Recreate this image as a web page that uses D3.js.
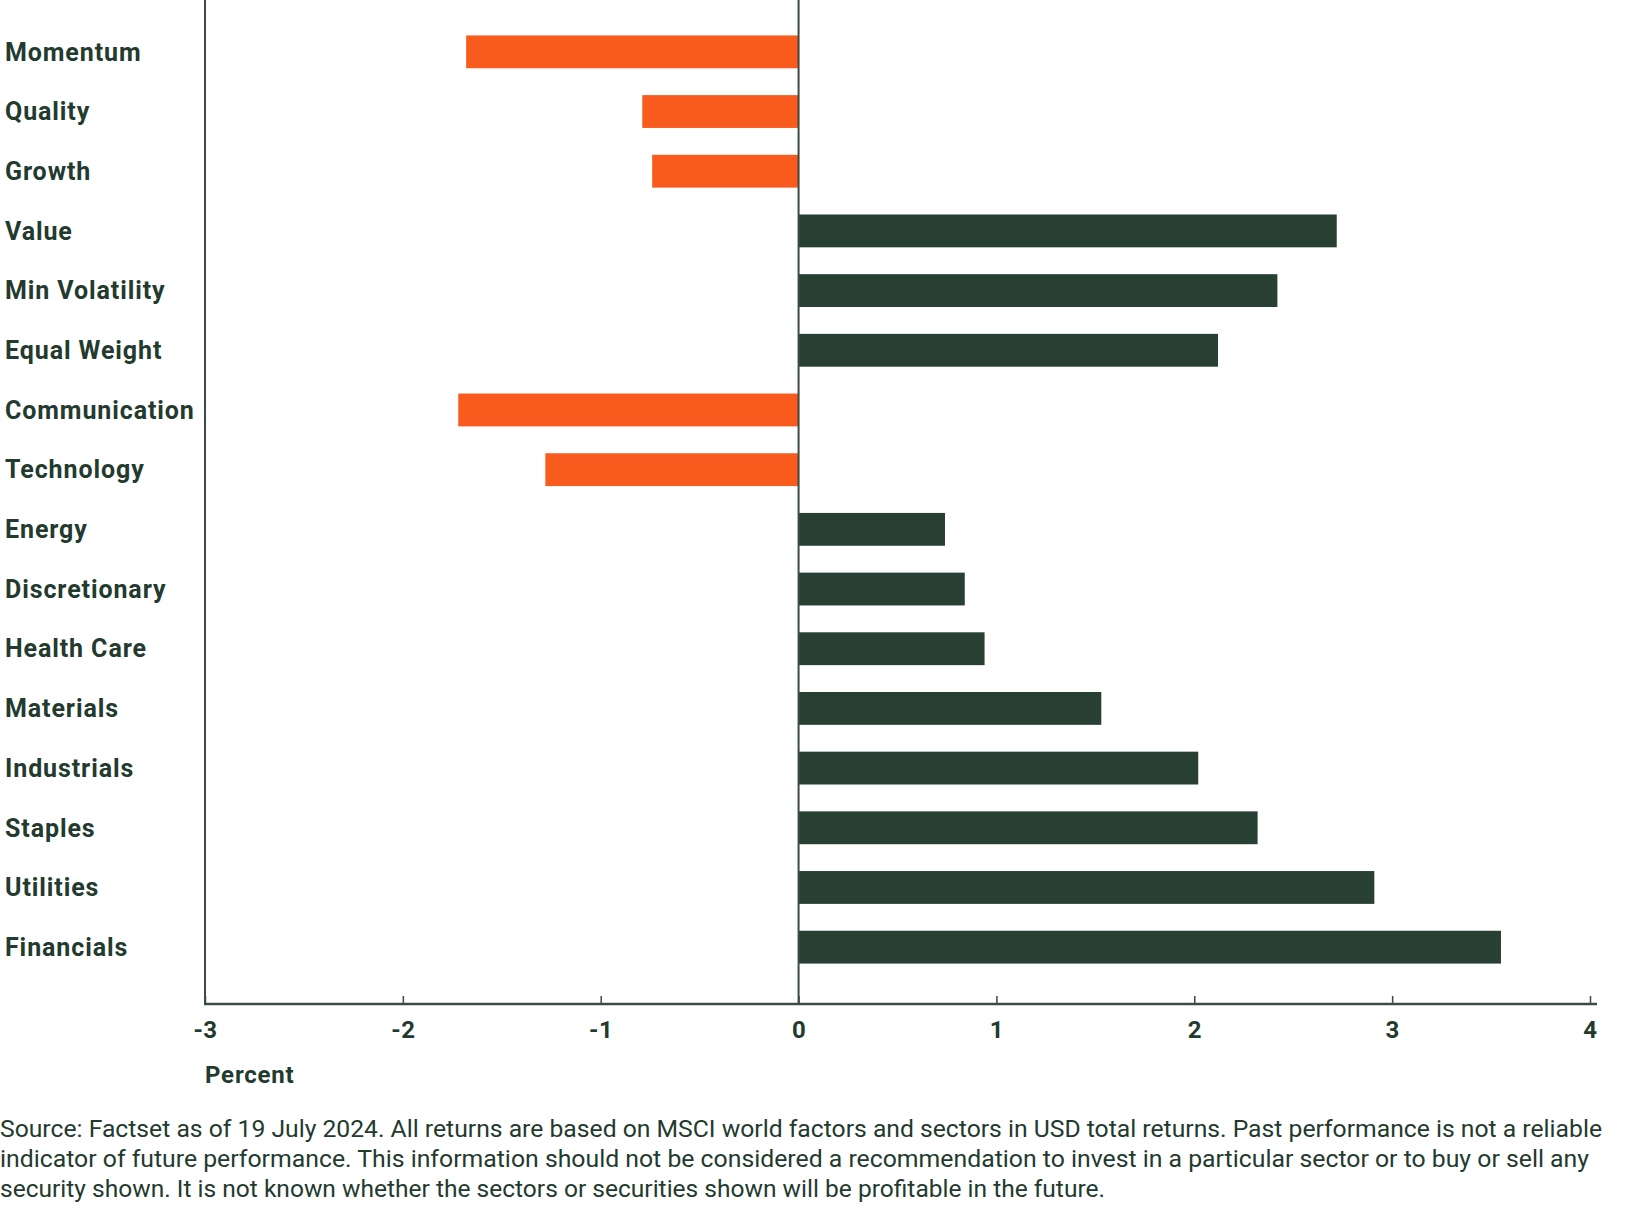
<!DOCTYPE html>
<html><head><meta charset="utf-8">
<script src="https://cdn.jsdelivr.net/npm/d3@7"></script>
<style>body{margin:0;background:#fff}</style>
</head><body><svg id="c" width="1626" height="1208"></svg>
<script>
const categories = ["Momentum","Quality","Growth","Value","Min Volatility","Equal Weight","Communication","Technology","Energy","Discretionary","Health Care","Materials","Industrials","Staples","Utilities","Financials"];
const values = [-1.68,-0.79,-0.74,2.72,2.42,2.12,-1.72,-1.28,0.74,0.84,0.94,1.53,2.02,2.32,2.91,3.55];
const tickValues = [-3,-2,-1,0,1,2,3,4];
const axisTitle = "Percent";
const footnoteLines = [
  "Source: Factset as of 19 July 2024. All returns are based on MSCI world factors and sectors in USD total returns. Past performance is not a reliable",
  "indicator of future performance. This information should not be considered a recommendation to invest in a particular sector or to buy or sell any",
  "security shown. It is not known whether the sectors or securities shown will be profitable in the future."
];
const footnoteWidths = [1602, 1589, 1105];

const DARK = "#283f33", ORANGE = "#f95b1e", TEXT = "#233a2e", AXIS = "#3d4b44";
const svg = d3.select("#c");
const x = d3.scaleLinear().domain([-3, 4]).range([205, 1590]);
const y = d3.scaleBand().domain(categories).range([22, 977]).paddingInner(0.45).paddingOuter(0.225);
const axisY = 1004;

// bars
svg.append("g").selectAll("rect").data(categories).join("rect")
  .attr("x", (d,i) => x(Math.min(0, values[i])))
  .attr("width", (d,i) => Math.abs(x(values[i]) - x(0)))
  .attr("y", d => y(d))
  .attr("height", y.bandwidth())
  .attr("fill", (d,i) => values[i] < 0 ? ORANGE : DARK);

// vertical lines
svg.append("line").attr("x1", x(-3)).attr("x2", x(-3)).attr("y1", 0).attr("y2", axisY)
  .attr("stroke", AXIS).attr("stroke-width", 2);
svg.append("line").attr("x1", x(0)).attr("x2", x(0)).attr("y1", 0).attr("y2", axisY)
  .attr("stroke", AXIS).attr("stroke-width", 2);

// x axis
const ax = svg.append("g").attr("transform", `translate(0,${axisY})`)
  .call(d3.axisBottom(x).tickValues(tickValues).tickFormat(d3.format("d")).tickSizeInner(-8).tickSizeOuter(0).tickPadding(17));
ax.select(".domain").remove();
ax.append("line").attr("x1", x(-3) - 1).attr("x2", 1597).attr("stroke", AXIS).attr("stroke-width", 2.5);
ax.selectAll(".tick line").attr("stroke", AXIS).attr("stroke-width", 1.5);
ax.selectAll(".tick text").attr("fill", TEXT).attr("font-family", "Roboto, sans-serif")
  .attr("font-weight", 700).attr("font-size", 24).attr("letter-spacing", 0.5)
  .text(d => d < 0 ? "-" + Math.abs(d) : d);

svg.append("text").attr("x", 205).attr("y", 1083).text(axisTitle)
  .attr("fill", TEXT).attr("font-family", "Roboto, sans-serif").attr("font-weight", 700)
  .attr("font-size", 24).attr("letter-spacing", 0.8);

// category labels
svg.append("g").selectAll("text").data(categories).join("text")
  .attr("x", 5).attr("y", d => y(d) + y.bandwidth()/2).attr("dy", "0.35em")
  .text(d => d)
  .attr("fill", TEXT).attr("font-family", "Roboto, sans-serif").attr("font-weight", 700)
  .attr("font-size", 25).attr("letter-spacing", 0.9);

// footnote
svg.append("g").selectAll("text").data(footnoteLines).join("text")
  .attr("x", 0).attr("y", (d,i) => 1137 + i * 30)
  .attr("textLength", (d,i) => footnoteWidths[i]).attr("lengthAdjust", "spacingAndGlyphs")
  .text(d => d)
  .attr("fill", TEXT).attr("font-family", "Roboto, sans-serif").attr("font-size", 23.5);
</script></body></html>
